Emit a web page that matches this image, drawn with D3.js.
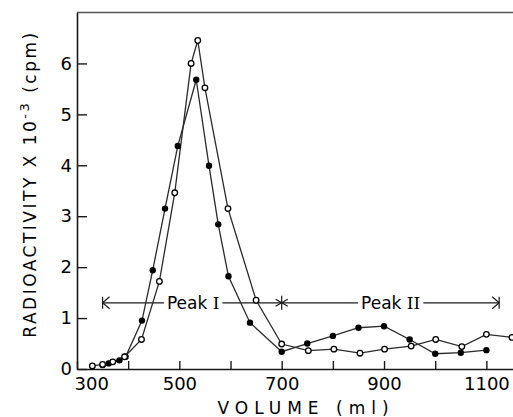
<!DOCTYPE html>
<html>
<head>
<meta charset="utf-8">
<script src="https://cdn.jsdelivr.net/npm/d3@7"></script>
<style>
  body { margin: 0; background: #fff; }
  svg { display: block; font-family: 'DejaVu Sans', sans-serif; }
</style>
</head>
<body>
<svg id="chart" width="513" height="417"></svg>
<script>
// fraction volumes (ml) and radioactivity (x 10^-3 cpm)
const filledVol = [350, 362, 383, 395, 427, 448, 472, 497, 533, 558, 576, 596, 638, 700, 750, 800, 850, 900, 950, 1000, 1050, 1100]
const filledCpm = [0.08, 0.11, 0.17, 0.24, 0.95, 1.94, 3.15, 4.38, 5.68, 3.99, 2.84, 1.82, 0.91, 0.34, 0.50, 0.65, 0.81, 0.84, 0.58, 0.30, 0.32, 0.37]
const openVol = [330, 350, 370, 393, 426, 461, 491, 523, 536, 550, 595, 650, 700, 752, 802, 853, 901, 953, 1001, 1052, 1100, 1150]
const openCpm = [0.06, 0.09, 0.14, 0.24, 0.58, 1.72, 3.46, 6.00, 6.45, 5.52, 3.15, 1.35, 0.49, 0.36, 0.39, 0.31, 0.39, 0.45, 0.58, 0.44, 0.68, 0.62]

const xTicks = [300, 400, 500, 600, 700, 800, 900, 1000, 1100]
const xLabels = [300, 500, 700, 900, 1100]
const yTicks = [0, 1, 2, 3, 4, 5, 6]

// peak pooling annotation
const peakLevel = 1.3
const peakBounds = [350, 700, 1125]
const peakNames = ['I', 'II']
const peakLabelAt = [527, 913]

const svg = d3.select('#chart')
const x = d3.scaleLinear().domain([300, 1152]).range([77, 513])
const y = d3.scaleLinear().domain([0, 7]).range([369, 12.5])
const ink = '#1a1a1a'

// frame top line
svg.append('line')
  .attr('x1', x(300)).attr('x2', 513)
  .attr('y1', y(7)).attr('y2', y(7))
  .attr('stroke', '#555').attr('stroke-width', 1.6)

const xAxis = svg.append('g')
  .attr('transform', `translate(0,${y(0)})`)
  .call(d3.axisBottom(x).tickValues(xTicks).tickSizeInner(-8).tickSizeOuter(0).tickPadding(8)
    .tickFormat(d => xLabels.includes(d) ? d : ''))
const yAxis = svg.append('g')
  .attr('transform', `translate(${x(300)},0)`)
  .call(d3.axisLeft(y).tickValues(yTicks).tickSizeInner(-10).tickSizeOuter(0).tickPadding(5)
    .tickFormat(d3.format('d')))

for (const ax of [xAxis, yAxis]) {
  ax.select('.domain').attr('stroke', ink).attr('stroke-width', 1.6)
  ax.selectAll('.tick line').attr('stroke', ink).attr('stroke-width', 1.4)
  ax.selectAll('.tick text').attr('fill', '#000').style('font-size', '18px').style('font-family', 'DejaVu Sans')
}
// first volume label sits just right of the origin, clear of the "0"
xAxis.selectAll('.tick').filter(d => d === 300).select('text')
  .attr('text-anchor', 'start').attr('x', -3)

// axis titles
svg.append('text')
  .attr('x', 306).attr('y', 414)
  .attr('text-anchor', 'middle')
  .style('font-size', '17px').style('letter-spacing', '6px')
  .text('VOLUME (ml)')

const yt = svg.append('text')
  .attr('transform', 'translate(36,184) rotate(-90)')
  .attr('text-anchor', 'middle')
  .style('font-size', '17px').style('letter-spacing', '2.5px')
yt.append('tspan').text('RADIOACTIVITY X 10')
yt.append('tspan').attr('dy', -7).style('font-size', '13px').text('-3')
yt.append('tspan').attr('dy', 7).text(' (cpm)')

// peak annotation
const ann = svg.append('g').attr('stroke', ink).attr('stroke-width', 1.2)
const labels = svg.append('g')
const py = y(peakLevel)
ann.append('line').attr('x1', x(peakBounds[0])).attr('x2', x(peakBounds[2])).attr('y1', py).attr('y2', py)
ann.append('path').attr('fill', 'none')
  .attr('d', `M${x(peakBounds[0]) + 7},${py - 6}L${x(peakBounds[0])},${py}L${x(peakBounds[0]) + 7},${py + 6}` +
    `M${x(peakBounds[0])},${py - 6}L${x(peakBounds[0])},${py + 6}`)
ann.append('path').attr('fill', 'none')
  .attr('d', `M${x(peakBounds[2]) - 7},${py - 6}L${x(peakBounds[2])},${py}L${x(peakBounds[2]) - 7},${py + 6}` +
    `M${x(peakBounds[2])},${py - 6}L${x(peakBounds[2])},${py + 6}`)
// asterisk at the split
const sx = x(peakBounds[1])
;[90, 30, -30].forEach(a => {
  const r = 7, t = a * Math.PI / 180
  ann.append('line')
    .attr('x1', sx - r * Math.cos(t)).attr('y1', py - r * Math.sin(t))
    .attr('x2', sx + r * Math.cos(t)).attr('y2', py + r * Math.sin(t))
})

peakNames.forEach((n, i) => {
  const t = labels.append('text')
    .attr('x', x(peakLabelAt[i])).attr('y', py + 6)
    .attr('text-anchor', 'middle')
    .style('font-size', '17px')
  t.append('tspan').text('Peak ')
  t.append('tspan').style('font-family', 'DejaVu Serif').text(n)
  const b = t.node().getBBox()
  // white gap in the rule behind the label
  ann.append('rect')
    .attr('x', b.x - 3).attr('y', py - 2).attr('width', b.width + 6).attr('height', 4)
    .attr('fill', '#fff').attr('stroke', 'none')
})

// series
const line = d3.line().x(d => x(d[0])).y(d => y(d[1]))
const filled = filledVol.map((v, i) => [v, filledCpm[i]])
const open = openVol.map((v, i) => [v, openCpm[i]])

const plot = svg.append('g')
for (const s of [filled, open]) {
  plot.append('path').datum(s).attr('d', line)
    .attr('fill', 'none').attr('stroke', '#2a2a2a').attr('stroke-width', 1.3)
}
plot.selectAll('.f').data(filled).join('circle')
  .attr('cx', d => x(d[0])).attr('cy', d => y(d[1])).attr('r', 3.2)
  .attr('fill', '#000')
plot.selectAll('.o').data(open).join('circle')
  .attr('cx', d => x(d[0])).attr('cy', d => y(d[1])).attr('r', 2.8)
  .attr('fill', '#fff').attr('stroke', '#000').attr('stroke-width', 1.3)
</script>
</body>
</html>
